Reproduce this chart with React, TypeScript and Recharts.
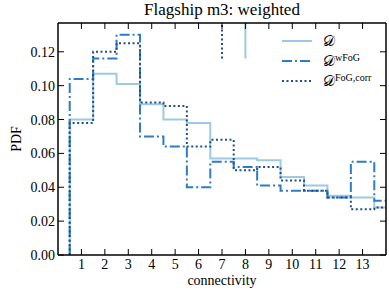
import { LineChart, Line, XAxis, YAxis, ReferenceLine, Label } from 'recharts';

const binEdges = [0.5, 1.5, 2.5, 3.5, 4.5, 5.5, 6.5, 7.5, 8.5, 9.5, 10.5, 11.5, 12.5, 13.5, 14.5];
const pdfD = [0.080, 0.107, 0.101, 0.089, 0.080, 0.078, 0.057, 0.057, 0.056, 0.046, 0.041, 0.035, 0.034, 0.028];
const pdfWFoG = [0.104, 0.116, 0.130, 0.070, 0.064, 0.040, 0.055, 0.052, 0.041, 0.038, 0.038, 0.034, 0.055, 0.032];
const pdfCorr = [0.078, 0.120, 0.125, 0.090, 0.088, 0.064, 0.068, 0.050, 0.052, 0.044, 0.038, 0.034, 0.027, 0.028];
const xTicks = [1, 2, 3, 4, 5, 6, 7, 8, 9, 10, 11, 12, 13];
const yTicks = [0, 0.02, 0.04, 0.06, 0.08, 0.1, 0.12];
// stray vertical marks near the top of the frame
const spikeD = { x: 8, y: 0.116 };
const spikeCorr = { x: 7, y: 0.116 };

const C_D = '#9ecae1';
const C_W = '#2f7cc4';
const C_C = '#1d4f91';
const FONT = '"Liberation Serif", "DejaVu Serif", serif';
const Y_MAX = 0.137;

const data = [
  { x: binEdges[0], d: 0, w: 0, c: 0 },
  ...pdfD.map((v, i) => ({ x: binEdges[i], d: v, w: pdfWFoG[i], c: pdfCorr[i] })),
  { x: binEdges[14], d: pdfD[13], w: pdfWFoG[13], c: pdfCorr[13] },
];

const BottomTick = (props: any) => {
  const { x, y, payload } = props;
  return (
    <g>
      <line x1={x} x2={x} y1={y} y2={y - 6} stroke="#000" strokeWidth={1} />
      <text x={x} y={y + 14} textAnchor="middle" fontFamily={FONT} fontSize={14} fill="#000">
        {payload.value}
      </text>
    </g>
  );
};

const TopTick = (props: any) => {
  const { x, y } = props;
  return <line x1={x} x2={x} y1={y} y2={y + 6} stroke="#000" strokeWidth={1} />;
};

const LeftTick = (props: any) => {
  const { x, y, payload } = props;
  return (
    <g>
      <line x1={x} x2={x + 6} y1={y} y2={y} stroke="#000" strokeWidth={1} />
      <text x={x - 3} y={y + 5} textAnchor="end" fontFamily={FONT} fontSize={14} fill="#000">
        {payload.value.toFixed(2)}
      </text>
    </g>
  );
};

const RightTick = (props: any) => {
  const { x, y } = props;
  return <line x1={x} x2={x - 6} y1={y} y2={y} stroke="#000" strokeWidth={1} />;
};

function LegendRow({ color, dash, sup, top }: any) {
  return (
    <div style={{ position: 'absolute', left: 282, top, display: 'flex', alignItems: 'center' }}>
      <svg width={30} height={4}>
        <line x1={0} x2={30} y1={2} y2={2} stroke={color} strokeWidth={2} strokeDasharray={dash} />
      </svg>
      <span style={{ marginLeft: 11, fontFamily: FONT, fontSize: 15, lineHeight: '16px' }}>
        𝒟
        {sup && <sup style={{ fontSize: 10, verticalAlign: 'top', position: 'relative', top: -3 }}>{sup}</sup>}
      </span>
    </div>
  );
}

export default function App() {
  return (
    <div style={{ position: 'fixed', left: 0, top: 0, width: 389, height: 292, background: '#fff' }}>
      <LineChart width={389} height={292} data={data} margin={{ top: 22, right: 2, bottom: 0, left: 0 }}>
        <XAxis
          dataKey="x"
          type="number"
          domain={[0, 14]}
          allowDataOverflow
          ticks={xTicks}
          interval={0}
          tickSize={0}
          tickMargin={0}
          height={37}
          tick={<BottomTick />}
          axisLine={{ stroke: '#000', strokeWidth: 1.5 }}
        >
          <Label value="connectivity" position="insideBottom" offset={7} style={{ fontFamily: FONT, fontSize: 14, fill: '#000' }} />
        </XAxis>
        <XAxis
          xAxisId="top"
          orientation="top"
          dataKey="x"
          type="number"
          domain={[0, 14]}
          allowDataOverflow
          ticks={xTicks}
          interval={0}
          tickSize={0}
          tickMargin={0}
          height={1}
          tick={<TopTick />}
          axisLine={{ stroke: '#000', strokeWidth: 1.5 }}
        />
        <YAxis
          type="number"
          domain={[0, Y_MAX]}
          allowDataOverflow
          ticks={yTicks}
          interval={0}
          tickSize={0}
          tickMargin={0}
          width={58}
          tick={<LeftTick />}
          axisLine={{ stroke: '#000', strokeWidth: 1.5 }}
        >
          <Label value="PDF" angle={-90} position="insideLeft" offset={16} style={{ fontFamily: FONT, fontSize: 14, fill: '#000', textAnchor: 'middle' }} />
        </YAxis>
        <YAxis
          yAxisId="right"
          orientation="right"
          type="number"
          domain={[0, Y_MAX]}
          allowDataOverflow
          ticks={yTicks}
          interval={0}
          tickSize={0}
          tickMargin={0}
          width={1}
          tick={<RightTick />}
          axisLine={{ stroke: '#000', strokeWidth: 1.5 }}
        />
        <ReferenceLine
          segment={[{ x: spikeD.x, y: spikeD.y }, { x: spikeD.x, y: Y_MAX }]}
          stroke={C_D}
          strokeWidth={2}
          ifOverflow="visible"
        />
        <ReferenceLine
          segment={[{ x: spikeCorr.x, y: spikeCorr.y }, { x: spikeCorr.x, y: Y_MAX }]}
          stroke={C_C}
          strokeWidth={2}
          strokeDasharray="2 2.5"
          ifOverflow="visible"
        />
        <Line type="stepAfter" dataKey="d" stroke={C_D} strokeWidth={2} dot={false} isAnimationActive={false} />
        <Line type="stepAfter" dataKey="w" stroke={C_W} strokeWidth={2} strokeDasharray="10 3 2 3" dot={false} isAnimationActive={false} />
        <Line type="stepAfter" dataKey="c" stroke={C_C} strokeWidth={2} strokeDasharray="2 2.5" dot={false} isAnimationActive={false} />
      </LineChart>
      <div style={{ position: 'absolute', left: 58, width: 328, top: 0, textAlign: 'center', fontFamily: FONT, fontSize: 17 }}>
        Flagship m3: weighted
      </div>
      <LegendRow color={C_D} top={33} />
      <LegendRow color={C_W} dash="10 3 2 3" sup="wFoG" top={53} />
      <LegendRow color={C_C} dash="2 2.5" sup="FoG,corr" top={73} />
    </div>
  );
}
